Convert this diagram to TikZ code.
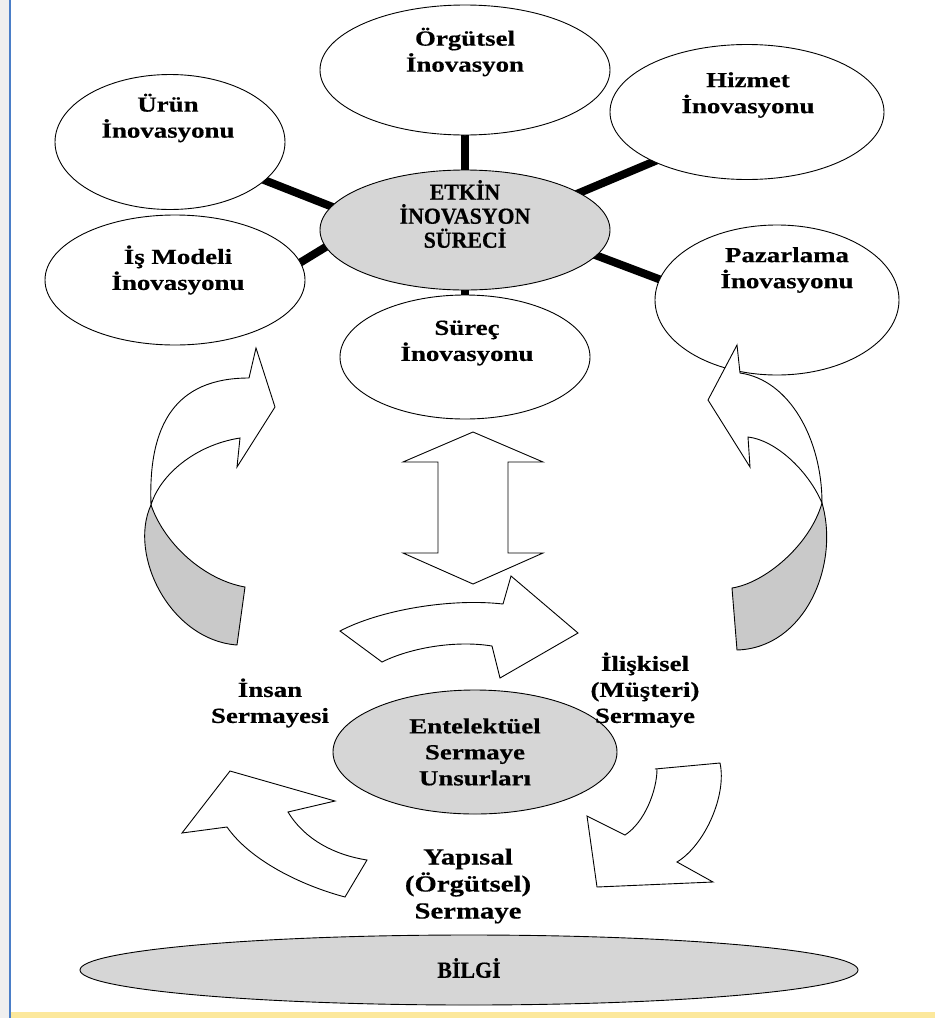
\documentclass[tikz,border=0pt]{standalone}
\usepackage{fontspec}
\setmainfont[FakeStretch=1.25, BoldFeatures={FakeBold=0.4}]{Liberation Serif}
\newfontfamily\capfont[FakeStretch=0.95, BoldFeatures={FakeBold=0.4}]{Liberation Serif}
\usetikzlibrary{shapes.geometric,calc}
\pgfdeclarelayer{paper}
\pgfdeclarelayer{back}
\pgfsetlayers{paper,back,main}
\definecolor{edgeblue}{HTML}{4A7EC8}
\definecolor{baryellow}{HTML}{FCE89C}
\definecolor{sidegray}{HTML}{EFEFEF}
\definecolor{dotgray}{HTML}{D6D6D6}
\definecolor{ribbongray}{HTML}{C9C9C9}
\tikzset{
  oval/.style={ellipse, draw=black, line width=0.9pt, fill=white, inner sep=0pt},
  shaded oval/.style={oval, fill=dotgray},
  txt/.style={align=center, font=\bfseries\fontsize{21.5}{26}\selectfont, inner sep=0pt},
  captxt/.style={txt, font=\capfont\bfseries\fontsize{23}{24}\selectfont},
  bigtxt/.style={txt, font=\bfseries\fontsize{23}{27}\selectfont},
  spoke/.style={line width=8pt, line cap=butt, shorten <=-8pt, shorten >=-8pt},
  ribbon/.style={draw=black, line width=0.9pt, fill=white, line join=miter},
  ribbonback/.style={ribbon, fill=ribbongray},
}
\begin{document}
\begin{tikzpicture}[x=1pt,y=-1pt]
\useasboundingbox (0,0) rectangle (935,1018);
\begin{pgfonlayer}{paper}
  \fill[white] (0,0) rectangle (935,1018);
  \fill[sidegray] (0,0) rectangle (9,1018);
  \fill[edgeblue] (8.5,0) rectangle (11,1018);
  \fill[baryellow] (11,1012) rectangle (935,1018);
\end{pgfonlayer}

% innovation types around the central process
\node[oval, minimum width=290, minimum height=130] (org) at (465,70) {};
\node[oval, minimum width=230, minimum height=135] (urun) at (170,142) {};
\node[oval, minimum width=274, minimum height=135] (hiz) at (747,112) {};
\node[shaded oval, minimum width=290, minimum height=120] (etkin) at (465,230) {};
\node[oval, minimum width=260, minimum height=130] (ism) at (175,280) {};
\node[oval, minimum width=244, minimum height=150] (paz) at (777,300) {};
\node[oval, minimum width=250, minimum height=124] (surec) at (465,357) {};

\begin{pgfonlayer}{back}
  \draw[spoke] (etkin.90) -- (org.-90);
  \draw[spoke] (etkin.170) -- (urun.-22);
  \draw[spoke] (etkin.18) -- (hiz.-152);
  \draw[spoke] (etkin.187) -- (ism.8);
  \draw[spoke] (etkin.-11) -- (paz.170);
  \draw[spoke] (etkin.-90) -- (surec.90);
\end{pgfonlayer}

\node[txt] (t-org) at (465,52) {Örgütsel\\İnovasyon};
\node[txt] (t-urun) at (168,118) {Ürün\\İnovasyonu};
\node[txt] (t-hiz) at (748,95) {Hizmet\\İnovasyonu};
\node[captxt] (t-etkin) at (465,214) {ETKİN\\İNOVASYON\\SÜRECİ};
\node[txt] (t-ism) at (178,270) {İş Modeli\\İnovasyonu};
\node[txt] (t-paz) at (787,270) {Pazarlama\\İnovasyonu};
\node[txt] (t-surec) at (467,343) {Süreç\\İnovasyonu};

% curved ribbon arrow on the left
\draw[ribbonback] (151,505) .. controls (128,555) and (170,640) .. (237,645)
  -- (245,587) .. controls (205,580) and (165,545) .. (151,505) -- cycle;
\draw[ribbon] (151,505) .. controls (148,425) and (175,378) .. (249,378)
  -- (256,348) -- (275,407) -- (237,467) -- (240,438)
  .. controls (195,445) and (160,475) .. (151,505) -- cycle;

% curved ribbon arrow on the right
\draw[ribbonback] (822,503) .. controls (840,565) and (805,648) .. (737,650)
  -- (732,588) .. controls (765,583) and (810,545) .. (822,503) -- cycle;
\draw[ribbon] (822,503) .. controls (822,440) and (790,380) .. (740,373)
  -- (737,345) -- (708,400) -- (750,467) -- (748,437)
  .. controls (775,440) and (808,470) .. (822,503) -- cycle;

% two-headed vertical arrow
\draw[ribbon] (473,432) -- (543,462) -- (508,462) -- (508,553) -- (543,553)
  -- (473,584) -- (403,553) -- (438,553) -- (438,462) -- (403,462) -- cycle;

% curved arrow to the right
\draw[ribbon] (340,631) .. controls (380,610) and (450,598) .. (503,604)
  -- (511,576) -- (578,633) -- (500,678) -- (492,646)
  .. controls (455,640) and (410,648) .. (382,662) -- cycle;

% intellectual capital
\node[shaded oval, minimum width=284, minimum height=124] (ent) at (475,752) {};
\node[txt] (t-ent) at (475,752) {Entelektüel\\Sermaye\\Unsurları};
\node[txt] (t-insan) at (270,703) {İnsan\\Sermayesi};
\node[txt] (t-ilis) at (645,690) {İlişkisel\\(Müşteri)\\Sermaye};
\node[bigtxt] (t-yap) at (468,886) {Yapısal\\(Örgütsel)\\Sermaye};

% lower arrows
\draw[ribbon] (182,833) -- (230,771) -- (335,801) -- (288,812)
  .. controls (305,840) and (335,855) .. (367,860) -- (345,897)
  .. controls (300,885) and (250,860) .. (227,827) -- cycle;
\draw[ribbon] (655,769) -- (720,763) .. controls (727,795) and (705,845) .. (677,862)
  -- (713,882) -- (597,887) -- (587,816) -- (625,835)
  .. controls (645,822) and (657,790) .. (657,769) -- cycle;

% knowledge base
\node[shaded oval, minimum width=778, minimum height=70] (bilgi) at (469,970) {};
\node[captxt] (t-bilgi) at (469,968) {BİLGİ};
\end{tikzpicture}
\end{document}
